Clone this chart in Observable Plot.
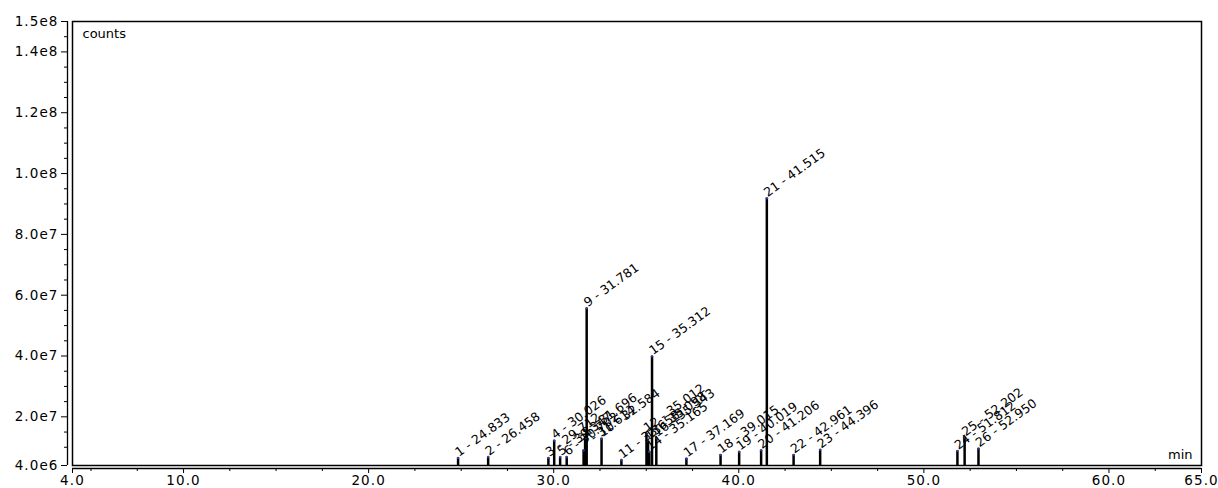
<!DOCTYPE html>
<html><head><meta charset="utf-8">
<script src="https://cdn.jsdelivr.net/npm/d3@7"></script>
<script src="https://cdn.jsdelivr.net/npm/@observablehq/plot@0.6"></script>
<style>
html,body{margin:0;padding:0;background:#fff;}
.chroma g[aria-label$="tick label"] text{letter-spacing:1.1px;}
</style>
</head><body><div id="chart"></div>
<script>
// Peak table
const peakNumbers = [1,2,3,4,5,6,7,8,9,10,11,12,13,14,15,16,17,18,19,20,21,22,23,24,25,26];
const peakTimes = [24.833,26.458,29.712,30.026,30.347,30.702,31.614,31.696,31.781,32.584,33.658,35.012,35.098,35.165,35.312,35.543,37.169,39.015,40.019,41.206,41.515,42.961,44.396,51.812,52.202,52.950];
const peakHeights = [6.5e6,6.8e6,6.5e6,1.22e7,6.8e6,6.8e6,9.0e6,1.3e7,5.57e7,1.29e7,5.8e6,1.45e7,1.2e7,8.5e6,3.99e7,1.3e7,6.3e6,7.5e6,8.5e6,9.0e6,9.19e7,7.5e6,9.2e6,8.8e6,1.32e7,9.6e6];

// Axes
const xDomain = [4, 65];
const yDomain = [4e6, 1.5e8];
const xTicks = [4, 10, 20, 30, 40, 50, 60, 65];
const xTickLabels = ["4.0","10.0","20.0","30.0","40.0","50.0","60.0","65.0"];
const xMinorTicks = [5,7.5,12.5,15,17.5,22.5,25,27.5,32.5,35,37.5,42.5,45,47.5,52.5,55,57.5,62.5];
const yTicks = [4e6, 2e7, 4e7, 6e7, 8e7, 1e8, 1.2e8, 1.4e8, 1.5e8];
const yTickLabels = ["4.0e6","2.0e7","4.0e7","6.0e7","8.0e7","1.0e8","1.2e8","1.4e8","1.5e8"];
const yMinorTicks = [1e7,1.5e7,2.5e7,3e7,3.5e7,4.5e7,5e7,5.5e7,6.5e7,7e7,7.5e7,8.5e7,9e7,9.5e7,1.05e8,1.1e8,1.15e8,1.25e8,1.3e8,1.35e8,1.45e8];
const yUnit = "counts";
const xUnit = "min";

const peaks = peakNumbers.map((n, i) => ({
  n, rt: peakTimes[i], h: peakHeights[i],
  label: `${n} - ${peakTimes[i].toFixed(3)}`
}));

const chart = Plot.plot({
  width: 1218,
  height: 488,
  marginLeft: 72,
  marginRight: 17,
  marginTop: 21,
  marginBottom: 23,
  className: "chroma",
  style: {fontFamily: "DejaVu Sans, Liberation Sans, sans-serif", fontSize: "13px", background: "#fff", color: "#000"},
  x: {domain: xDomain, label: null},
  y: {domain: yDomain, label: null},
  marks: [
    Plot.frame({stroke: "#000", strokeWidth: 1.5}),
    Plot.ruleX([xDomain[0]], {dx: -5, stroke: "#000", strokeWidth: 1.3}),
    Plot.ruleY([yDomain[0]], {dy: 3, stroke: "#000", strokeWidth: 1.3}),
    Plot.axisY(yTicks, {dx: -5, tickSize: 6, tickPadding: 3, fontSize: 13.5,
      tickFormat: d => yTickLabels[yTicks.indexOf(d)]}),
    Plot.axisY(yMinorTicks, {dx: -5, tickSize: 3, tickFormat: () => ""}),
    Plot.axisX(xTicks, {dy: 3, tickSize: 5, tickPadding: 2, fontSize: 13.5,
      tickFormat: d => xTickLabels[xTicks.indexOf(d)]}),
    Plot.axisX(xMinorTicks, {dy: 3, tickSize: 3, tickFormat: () => ""}),
    Plot.ruleX(peaks, {x: "rt", y1: () => yDomain[0], y2: "h", stroke: "#000", strokeWidth: 2.5}),
    Plot.dot(peaks, {x: "rt", y: "h", r: 1.2, fill: "#2b3fb0", stroke: null}),
    Plot.text(peaks, {x: "rt", y: "h", text: "label", rotate: -36, textAnchor: "start",
      lineAnchor: "bottom", dx: 1, dy: -1, fontSize: 12.5, fill: "#000"}),
    Plot.text([yUnit], {frameAnchor: "top-left", dx: 10, dy: 7, textAnchor: "start", fontSize: 13}),
    Plot.text([xUnit], {frameAnchor: "bottom-right", dx: -9, dy: -7, textAnchor: "end", fontSize: 13})
  ]
});
document.getElementById("chart").appendChild(chart);
</script>
</body></html>
